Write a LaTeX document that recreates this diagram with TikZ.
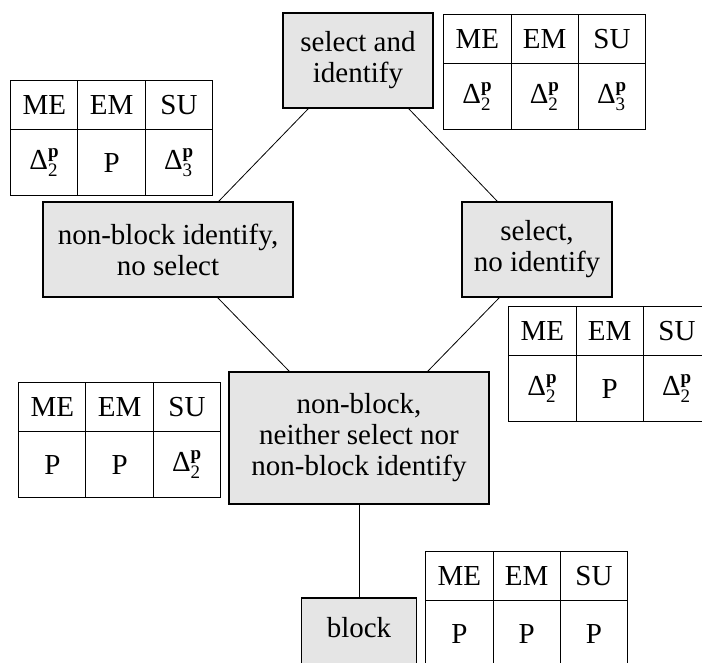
\RequirePackage{fix-cm}
\documentclass[tikz,border=0pt]{standalone}
\usepackage{fontspec}
\setmainfont{Liberation Serif}
\usetikzlibrary{matrix}
\newcommand{\cxD}[1]{$\mbox{Δ}^{\mbox{\fontsize{19}{19}\selectfont\bfseries p}}_{\mbox{\fontsize{19}{19}\selectfont #1}}$}
\begin{document}
\begin{tikzpicture}[x=1pt,y=-1pt,
    every node/.style={font=\fontsize{29}{31}\selectfont},
    cxBox/.style={draw,line width=1.2pt,fill=gray!20,align=center,inner sep=0pt},
    cxLink/.style={line width=0.8pt},
    cxTab/.style={matrix of nodes,anchor=north west,inner sep=0pt,column sep=-1pt,row sep=-1pt,
      nodes={draw,line width=1pt,anchor=center,inner sep=0pt,minimum width=67.3pt},
      row 1/.style={nodes={minimum height=49pt}},
      row 2/.style={nodes={minimum height=66pt}}},
]
\useasboundingbox (0,0) rectangle (702,662);
\clip (0,0) rectangle (702,662);
% Boxes
\node[cxBox,minimum width=150pt,minimum height=95pt] (selId) at (358,60.5) {select and\\identify};
\node[cxBox,minimum width=250pt,minimum height=95pt] (nbId) at (168,249.5) {non-block identify,\\no select};
\node[cxBox,minimum width=150pt,minimum height=95pt] (selNoId) at (537,249.5) {select,\\no identify};
\node[cxBox,minimum width=260pt,minimum height=132pt] (nbNeither) at (359,438) {non-block,\\neither select nor\\non-block identify};
\node[cxBox,minimum width=115pt,anchor=base,text height=39pt,text depth=40pt] (blk) at (359,637) {block};
% Tables
\matrix (tabSelId) [cxTab] at (443,14) {ME & EM & SU\\ \cxD{2} & \cxD{2} & \cxD{3}\\};
\matrix (tabNbId) [cxTab] at (10,80) {ME & EM & SU\\ \cxD{2} & P & \cxD{3}\\};
\matrix (tabSelNoId) [cxTab] at (508,306) {ME & EM & SU\\ \cxD{2} & P & \cxD{2}\\};
\matrix (tabNbNeither) [cxTab] at (18,382) {ME & EM & SU\\ P & P & \cxD{2}\\};
\matrix (tabBlk) [cxTab] at (425,551) {ME & EM & SU\\ P & P & P\\};
% Links
\draw[cxLink] ([xshift=26pt]selId.south west) -- ([xshift=-75pt]nbId.north east);
\draw[cxLink] ([xshift=-25pt]selId.south east) -- ([xshift=36pt]selNoId.north west);
\draw[cxLink] ([xshift=-76pt]nbId.south east) -- ([xshift=61pt]nbNeither.north west);
\draw[cxLink] ([xshift=38pt]selNoId.south west) -- ([xshift=-62pt]nbNeither.north east);
\draw[cxLink] (nbNeither.south) -- (blk.north);
\end{tikzpicture}
\end{document}
